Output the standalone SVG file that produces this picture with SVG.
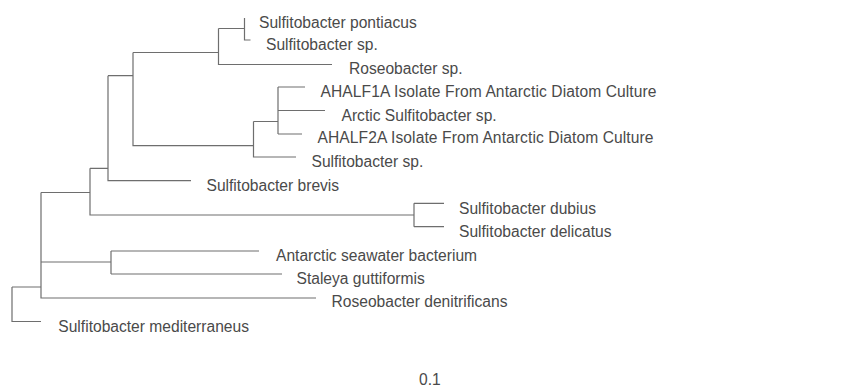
<svg xmlns="http://www.w3.org/2000/svg" width="852" height="387" viewBox="0 0 852 387">
<style>
.e{fill:none;stroke:#6e6e6e;stroke-width:1.2}
.t{font-family:"Liberation Sans",Arial,sans-serif;font-size:15.6px;fill:#4a4a4a}
</style>
<rect width="852" height="387" fill="#ffffff"/>
<g id="connectors" class="e">
<path d="M12,287 V321.5 H41"/>
<path d="M12,287 H41 M41,192.5 V298 H316"/>
<path d="M41,262 H111 M111,251 V274 M111,251 H259 M111,274 H282"/>
<path d="M41,192.5 H90 M90,168.3 V215 H414"/>
<path d="M414,203.3 V226.7 M414,203.3 H444 M414,226.7 H444"/>
<path d="M90,168.3 H108 M108,75.7 V180.7 H191"/>
<path d="M108,75.7 H133 M133,52.5 V145.7 H253.5"/>
<path d="M133,52.5 H218.5 M218.5,28.5 V64.5 H332"/>
<path d="M218.5,28.5 H244.5 M244.5,18 V40 H250.5"/>
<path d="M253.5,121.5 V157 H296 M253.5,121.5 H278"/>
<path d="M278,87 V134 M278,87 H305 M278,110.5 H325 M278,134 H302"/>
</g>
<g id="leaf-pontiacus"><text class="t" x="259" y="28">Sulfitobacter pontiacus</text></g>
<g id="leaf-sulfito-sp1"><text class="t" x="266" y="50">Sulfitobacter sp.</text></g>
<g id="leaf-roseobacter-sp"><text class="t" x="349" y="74">Roseobacter sp.</text></g>
<g id="leaf-ahalf1a"><text class="t" x="320.5" y="96.5" textLength="336" lengthAdjust="spacing">AHALF1A Isolate From Antarctic Diatom Culture</text></g>
<g id="leaf-arctic"><text class="t" x="341.5" y="120.5">Arctic Sulfitobacter sp.</text></g>
<g id="leaf-ahalf2a"><text class="t" x="317.5" y="143.3" textLength="336" lengthAdjust="spacing">AHALF2A Isolate From Antarctic Diatom Culture</text></g>
<g id="leaf-sulfito-sp2"><text class="t" x="311.5" y="167.3">Sulfitobacter sp.</text></g>
<g id="leaf-brevis"><text class="t" x="206.5" y="191">Sulfitobacter brevis</text></g>
<g id="leaf-dubius"><text class="t" x="459" y="214.3">Sulfitobacter dubius</text></g>
<g id="leaf-delicatus"><text class="t" x="459" y="236.7">Sulfitobacter delicatus</text></g>
<g id="leaf-antarctic-seawater"><text class="t" x="276" y="261">Antarctic seawater bacterium</text></g>
<g id="leaf-staleya"><text class="t" x="296.5" y="283.7">Staleya guttiformis</text></g>
<g id="leaf-denitrificans"><text class="t" x="331.5" y="307.3">Roseobacter denitrificans</text></g>
<g id="leaf-mediterraneus"><text class="t" x="58.3" y="331.7">Sulfitobacter mediterraneus</text></g>
<g id="scale"><text class="t" x="419" y="385">0.1</text></g>
</svg>
